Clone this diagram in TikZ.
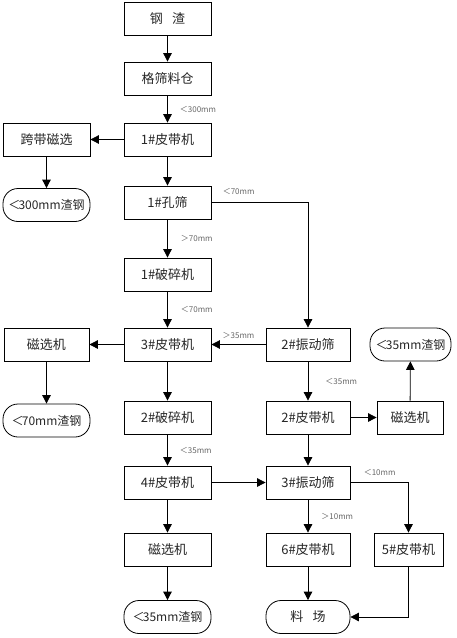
\documentclass[tikz,border=0pt]{standalone}
\usepackage{fontspec}
\newfontfamily\cjk{Noto Sans CJK SC}
\usetikzlibrary{arrows.meta}
\begin{document}
\begin{tikzpicture}[x=1pt,y=-1pt,
  box/.style={draw,line width=0.8pt,minimum height=33pt,minimum width=87pt,inner sep=0pt,
    font=\cjk\fontsize{13}{13}\selectfont,text=black!85},
  endbox/.style={box,rounded corners=15pt,font=\cjk\fontsize{12}{12}\selectfont},
  lbl/.style={font=\cjk\fontsize{8}{8}\selectfont,text=black!60,inner sep=0pt},
  flow/.style={line width=0.8pt,-{Triangle[length=8.5pt,width=8.5pt]}}]
\useasboundingbox (0,0) rectangle (456,638);
\node[box] (zz) at (167.5,19) {钢\hspace{0.7em}渣};
\node[box] (gs) at (167.5,78.5) {格筛料仓};
\node[box] (pd1) at (167.5,139.5) {1\#皮带机};
\node[box] (kd) at (46.5,139.5) {跨带磁选};
\node[endbox] (zg300) at (46.5,205) {＜\hspace{-0.15em}300mm渣钢};
\node[box] (ks1) at (167.5,202.5) {1\#孔筛};
\node[box] (ps1) at (167.5,274.5) {1\#破碎机};
\node[box] (pd3) at (167.5,344.5) {3\#皮带机};
\node[box,minimum width=85pt] (cx1) at (46.5,344.5) {磁选机};
\node[box,minimum width=84pt] (zd2) at (308,344.5) {2\#振动筛};
\node[endbox,minimum width=81pt] (zg35a) at (410.5,344.5) {＜\hspace{-0.15em}35mm渣钢};
\node[endbox] (zg70) at (46.5,420.5) {＜\hspace{-0.15em}70mm渣钢};
\node[box] (ps2) at (167.5,417.5) {2\#破碎机};
\node[box,minimum width=84pt] (pd2) at (308,417.5) {2\#皮带机};
\node[box,minimum width=66pt] (cx2) at (410,417.5) {磁选机};
\node[box] (pd4) at (167.5,482.5) {4\#皮带机};
\node[box,minimum width=84pt] (zd3) at (308,482.5) {3\#振动筛};
\node[box] (cx3) at (167.5,549.5) {磁选机};
\node[box,minimum width=84pt] (pd6) at (308,549.5) {6\#皮带机};
\node[box,minimum width=69pt] (pd5) at (408.5,549.5) {5\#皮带机};
\node[endbox] (zg35b) at (167.5,617) {＜\hspace{-0.15em}35mm渣钢};
\node[endbox,minimum width=84pt,font=\cjk\fontsize{13}{13}\selectfont] (lc) at (308,617) {料\hspace{0.7em}场};
\draw[flow] (zz) -- (gs);
\draw[flow] (gs) -- node[lbl,right=12pt]{＜300mm} (pd1);
\draw[flow] (pd1) -- (kd);
\draw[flow] (kd) -- (zg300);
\draw[flow] (pd1) -- (ks1);
\draw[flow] (ks1.east) -| node[lbl,pos=0,anchor=south west,xshift=11pt,yshift=8pt]{＜70mm} (zd2.north);
\draw[flow] (ks1) -- node[lbl,right=13pt]{＞70mm} (ps1);
\draw[flow] (ps1) -- node[lbl,right=13pt]{＜70mm} (pd3);
\draw[flow] (zd2) -- node[lbl,above=6pt]{＞35mm} (pd3);
\draw[flow] (pd3) -- (cx1);
\draw[flow] (cx1) -- (zg70);
\draw[flow] (pd3) -- (ps2);
\draw[flow] (zd2) -- node[lbl,right=17pt]{＜35mm} (pd2);
\draw[flow] (pd2) -- (cx2);
\draw[flow] (cx2) -- (zg35a);
\draw[flow] (ps2) -- node[lbl,right=12pt]{＜35mm} (pd4);
\draw[flow] (pd4) -- (zd3);
\draw[flow] (pd2) -- (zd3);
\draw[flow] (pd4) -- (cx3);
\draw[flow] (cx3) -- (zg35b);
\draw[flow] (zd3) -- node[lbl,right=13pt]{＞10mm} (pd6);
\draw[flow] (zd3.east) -| node[lbl,pos=0,anchor=south west,xshift=13pt,yshift=6.5pt]{＜10mm} (pd5.north);
\draw[flow] (pd6) -- (lc);
\draw[flow] (pd5.south) |- (lc.east);
\end{tikzpicture}
\end{document}
